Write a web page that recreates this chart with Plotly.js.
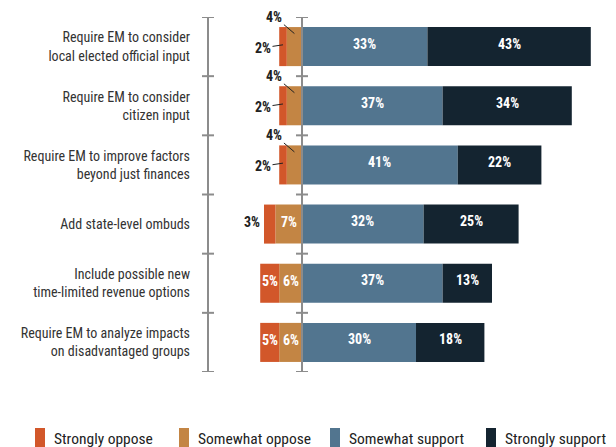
<!DOCTYPE html>
<html><head><meta charset="utf-8">
<script src="https://cdn.plot.ly/plotly-3.0.1.min.js"></script>
<style>html,body{margin:0;padding:0;background:#fff}#chart{width:616px;height:447px}</style>
</head><body><div id="chart"></div>
<script>
const categories = [
  'Require EM to consider<br>local elected official input',
  'Require EM to consider<br>citizen input',
  'Require EM to improve factors<br>beyond just finances',
  'Add state-level ombuds',
  'Include possible new<br>time-limited revenue options',
  'Require EM to analyze impacts<br>on disadvantaged groups'
];
const stronglyOppose  = [2, 2, 2, 3, 5, 5];
const somewhatOppose  = [4, 4, 4, 7, 6, 6];
const somewhatSupport = [33, 37, 41, 32, 37, 30];
const stronglySupport = [43, 34, 22, 25, 13, 18];
const seriesNames = ['Strongly oppose', 'Somewhat oppose', 'Somewhat support', 'Strongly support'];
const colors = ['#D2572A', '#C38544', '#52758F', '#142430'];

const FONT = "'Liberation Sans Narrow', 'Roboto Condensed', 'DejaVu Sans Condensed', 'Arial Narrow', sans-serif";
const yIdx = categories.map((c, i) => i);

function barTrace(vals, sign, k) {
  return {
    type: 'bar', orientation: 'h', name: seriesNames[k],
    y: yIdx, x: vals.map(v => sign * v),
    marker: {color: colors[k], line: {width: 0}},
    width: 0.66, showlegend: false, hoverinfo: 'skip'
  };
}
const data = [
  barTrace(somewhatOppose, -1, 1),
  barTrace(stronglyOppose, -1, 0),
  barTrace(somewhatSupport, 1, 2),
  barTrace(stronglySupport, 1, 3)
];

const annotations = [];
const lblFont = {family: FONT, size: 14, color: '#ffffff', weight: 'bold'};
const darkFont = {family: FONT, size: 14, color: '#222222', weight: 'bold'};
yIdx.forEach(i => {
  const so = stronglyOppose[i], sw = somewhatOppose[i], ss = somewhatSupport[i], st = stronglySupport[i];
  annotations.push({x: ss / 2, y: i, text: ss + '%', showarrow: false, font: lblFont, yshift: 3});
  annotations.push({x: ss + st / 2, y: i, text: st + '%', showarrow: false, font: lblFont, yshift: 3});
  if (so <= 4 && sw <= 4) {
    annotations.push({x: -sw / 2, y: i - 0.22, text: sw + '%', showarrow: true, arrowhead: 0,
      arrowwidth: 1, arrowcolor: '#222', ax: -20, ay: -17, font: darkFont});
    annotations.push({x: -(sw + so / 2), y: i - 0.03, text: so + '%', showarrow: true, arrowhead: 0,
      arrowwidth: 1, arrowcolor: '#222', ax: -20, ay: 3, font: darkFont});
  } else {
    annotations.push({x: -sw / 2, y: i, text: sw + '%', showarrow: false, font: lblFont, yshift: 2});
    if (so <= 4) {
      annotations.push({x: -(sw + so), y: i, text: so + '%', showarrow: false, font: darkFont,
        xanchor: 'right', xshift: -2, yshift: 2});
    } else {
      annotations.push({x: -(sw + so / 2), y: i, text: so + '%', showarrow: false, font: lblFont, yshift: 2});
    }
  }
});

// custom legend
const L = 208, R = 10, T = 17, PH = 355, PW = 616 - L - R;
const px = v => (v - L) / PW;
const py = v => (T + PH - v) / PH;
const legX = [35, 179, 330, 486];
const shapes = [];
seriesNames.forEach((n, k) => {
  shapes.push({type: 'rect', xref: 'paper', yref: 'paper', x0: px(legX[k]), x1: px(legX[k] + 10),
    y0: py(428), y1: py(448), fillcolor: colors[k], line: {width: 0}});
  annotations.push({xref: 'paper', yref: 'paper', x: px(legX[k] + 17), y: py(439), xanchor: 'left',
    yanchor: 'middle', text: n, showarrow: false, font: {family: FONT, size: 15.5, color: '#222'}});
});

// axis lines with crossing ticks
const gray = '#8c8c8c';
shapes.push({type: 'line', xref: 'paper', yref: 'y', x0: 0, x1: 0, y0: -0.5, y1: 5.5, line: {color: gray, width: 2}, layer: 'above'});
shapes.push({type: 'line', xref: 'x', yref: 'y', x0: 0, x1: 0, y0: -0.5, y1: 5.5, line: {color: gray, width: 2}, layer: 'above'});
for (let b = 0; b <= categories.length; b++) {
  const yb = b - 0.5;
  shapes.push({type: 'line', xref: 'paper', yref: 'y', xsizemode: 'pixel', xanchor: 0, x0: -6, x1: 6,
    y0: yb, y1: yb, line: {color: gray, width: 2}, layer: 'above'});
  shapes.push({type: 'line', xref: 'x', yref: 'y', xsizemode: 'pixel', xanchor: 0, x0: -6, x1: 6,
    y0: yb, y1: yb, line: {color: gray, width: 2}, layer: 'above'});
}

const layout = {
  width: 616, height: 447,
  margin: {l: L, r: R, t: T, b: 447 - T - PH, pad: 0},
  paper_bgcolor: '#fff', plot_bgcolor: '#fff',
  barmode: 'relative', bargap: 0.34,
  showlegend: false, hovermode: false,
  font: {family: FONT, color: '#333'},
  xaxis: {range: [-24.74, 80], showgrid: false, zeroline: false, showticklabels: false, showline: false, ticks: ''},
  yaxis: {range: [5.5, -0.5], tickmode: 'array', tickvals: yIdx, ticktext: categories,
    showgrid: false, zeroline: false, showline: false, ticks: '', ticklabelstandoff: 17,
    tickfont: {family: FONT, size: 14, color: '#333'}},
  annotations: annotations, shapes: shapes
};
Plotly.newPlot('chart', data, layout, {staticPlot: true, displayModeBar: false});
</script></body></html>
